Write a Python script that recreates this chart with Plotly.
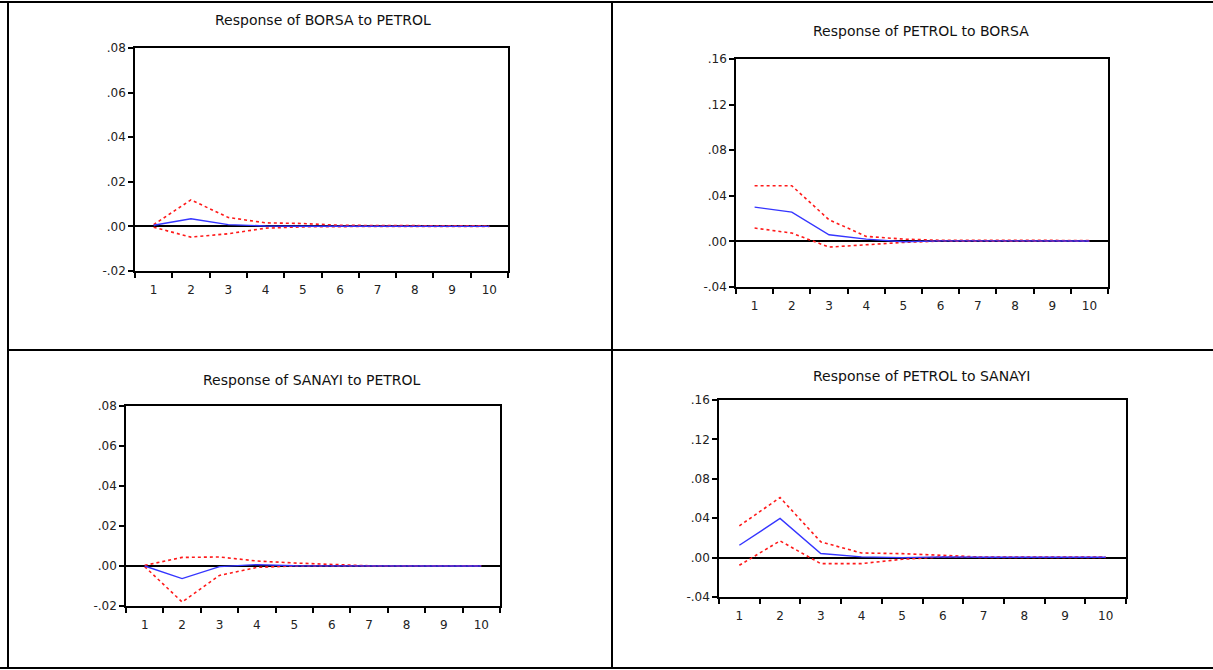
import plotly.graph_objects as go

W, H = 1213, 670

periods = [1, 2, 3, 4, 5, 6, 7, 8, 9, 10]
period_labels = ["1", "2", "3", "4", "5", "6", "7", "8", "9", "10"]

# Panel 1: Response of BORSA to PETROL
borsa_petrol_resp = [0.0005, 0.0034, 0.0008, 0.0002, 0.0001, 0.0001, 0.0001, 0.0001, 0.0000, 0.0000]
borsa_petrol_upper = [0.0008, 0.0119, 0.0040, 0.0016, 0.0013, 0.0005, 0.0004, 0.0003, 0.0003, 0.0002]
borsa_petrol_lower = [-0.0004, -0.0048, -0.0033, -0.0008, -0.0002, 0.0000, 0.0000, 0.0000, 0.0000, 0.0000]

# Panel 2: Response of PETROL to BORSA
petrol_borsa_resp = [0.0301, 0.0257, 0.0058, 0.0020, -0.0003, 0.0005, 0.0005, 0.0005, 0.0004, 0.0004]
petrol_borsa_upper = [0.0488, 0.0488, 0.0190, 0.0044, 0.0020, 0.0010, 0.0010, 0.0009, 0.0009, 0.0008]
petrol_borsa_lower = [0.0117, 0.0073, -0.0050, -0.0029, -0.0009, 0.0003, 0.0002, 0.0002, 0.0001, 0.0001]

# Panel 3: Response of SANAYI to PETROL
sanayi_petrol_resp = [0.0000, -0.0063, -0.0003, 0.0007, 0.0001, 0.0000, 0.0000, 0.0000, 0.0000, 0.0000]
sanayi_petrol_upper = [0.0003, 0.0043, 0.0045, 0.0025, 0.0015, 0.0007, 0.0001, 0.0001, 0.0001, 0.0001]
sanayi_petrol_lower = [-0.0003, -0.0180, -0.0047, -0.0007, 0.0000, 0.0000, 0.0000, 0.0000, 0.0000, 0.0000]

# Panel 4: Response of PETROL to SANAYI
petrol_sanayi_resp = [0.0125, 0.0397, 0.0041, 0.0007, 0.0000, 0.0007, 0.0003, 0.0003, 0.0003, 0.0003]
petrol_sanayi_upper = [0.0322, 0.0610, 0.0160, 0.0047, 0.0040, 0.0024, 0.0005, 0.0005, 0.0005, 0.0005]
petrol_sanayi_lower = [-0.0078, 0.0170, -0.0061, -0.0061, -0.0017, 0.0007, 0.0002, 0.0002, 0.0002, 0.0002]

titles = ["Response of BORSA to PETROL", "Response of PETROL to BORSA",
          "Response of SANAYI to PETROL", "Response of PETROL to SANAYI"]

ytick_vals_a = [-0.02, 0.00, 0.02, 0.04, 0.06, 0.08]
ytick_text_a = ["-.02", ".00", ".02", ".04", ".06", ".08"]
ytick_vals_b = [-0.04, 0.00, 0.04, 0.08, 0.12, 0.16]
ytick_text_b = ["-.04", ".00", ".04", ".08", ".12", ".16"]

panels = [
    dict(resp=borsa_petrol_resp, up=borsa_petrol_upper, lo=borsa_petrol_lower,
         xpx=(135, 508), ypx=(48, 271), yr=(-0.02, 0.08), tv=ytick_vals_a, tt=ytick_text_a,
         title_xy=(323, 20)),
    dict(resp=petrol_borsa_resp, up=petrol_borsa_upper, lo=petrol_borsa_lower,
         xpx=(736, 1108), ypx=(59, 287), yr=(-0.04, 0.16), tv=ytick_vals_b, tt=ytick_text_b,
         title_xy=(921, 31)),
    dict(resp=sanayi_petrol_resp, up=sanayi_petrol_upper, lo=sanayi_petrol_lower,
         xpx=(126, 500), ypx=(406, 606), yr=(-0.02, 0.08), tv=ytick_vals_a, tt=ytick_text_a,
         title_xy=(312, 380)),
    dict(resp=petrol_sanayi_resp, up=petrol_sanayi_upper, lo=petrol_sanayi_lower,
         xpx=(719, 1126), ypx=(400, 597), yr=(-0.04, 0.16), tv=ytick_vals_b, tt=ytick_text_b,
         title_xy=(921, 376)),
]

fig = go.Figure()
tick_font = "DejaVu Sans, sans-serif"
layout = dict(
    width=W, height=H, autosize=False, margin=dict(l=0, r=0, t=0, b=0, pad=0),
    paper_bgcolor="white", plot_bgcolor="white", showlegend=False,
    annotations=[], shapes=[],
)

for i, p in enumerate(panels, start=1):
    xa = "x" if i == 1 else f"x{i}"
    ya = "y" if i == 1 else f"y{i}"
    xkey = "xaxis" if i == 1 else f"xaxis{i}"
    ykey = "yaxis" if i == 1 else f"yaxis{i}"
    fig.add_trace(go.Scatter(x=periods, y=p["up"], mode="lines", xaxis=xa, yaxis=ya,
                             line=dict(color="#FF1A1A", width=1.6, dash="dot")))
    fig.add_trace(go.Scatter(x=periods, y=p["lo"], mode="lines", xaxis=xa, yaxis=ya,
                             line=dict(color="#FF1A1A", width=1.6, dash="dot")))
    fig.add_trace(go.Scatter(x=periods, y=p["resp"], mode="lines", xaxis=xa, yaxis=ya,
                             line=dict(color="#3535FF", width=1.4)))
    x0, x1 = p["xpx"]
    y0, y1 = p["ypx"]
    layout[xkey] = dict(
        domain=[x0 / W, x1 / W], anchor=ya, range=[0.5, 10.5], automargin=False,
        tickvals=periods, ticktext=period_labels, ticks="", ticklabelstandoff=7,
        minor=dict(tickvals=[k + 0.5 for k in range(0, 11)], ticks="outside",
                   ticklen=5, tickwidth=1.5, tickcolor="black", showgrid=False),
        showgrid=False, zeroline=False, showline=True, linecolor="black", linewidth=1.5,
        mirror=True, tickfont=dict(family=tick_font, size=12, color="#222222"),
        fixedrange=True,
    )
    layout[ykey] = dict(
        domain=[1 - y1 / H, 1 - y0 / H], anchor=xa, range=list(p["yr"]), automargin=False,
        tickvals=p["tv"], ticktext=p["tt"], ticks="outside", ticklen=5, tickwidth=1.5,
        tickcolor="black", showgrid=False, zeroline=True, zerolinecolor="black",
        zerolinewidth=1.5, showline=True, linecolor="black", linewidth=1.5, mirror=True,
        tickfont=dict(family=tick_font, size=12, color="#222222"), fixedrange=True,
    )
    tx, ty = p["title_xy"]
    layout["annotations"].append(dict(
        text=titles[i - 1], x=tx / W, y=1 - ty / H, xref="paper", yref="paper",
        showarrow=False, xanchor="center", yanchor="middle",
        font=dict(family="DejaVu Sans, sans-serif", size=14, color="#111111")))

# table frame lines
def line(x0, y0, x1, y1, w=2):
    return dict(type="line", xref="paper", yref="paper", x0=x0 / W, x1=x1 / W,
                y0=1 - y0 / H, y1=1 - y1 / H, line=dict(color="black", width=w))

layout["shapes"] += [
    line(0, 2, 1213, 2),
    line(8, 2, 8, 669),
    line(0, 668, 1213, 668),
    line(612, 2, 612, 669),
    line(8, 350, 1213, 350),
]

fig.update_layout(**layout)
fig.write_html("out.html", config={"responsive": False, "displayModeBar": False})
